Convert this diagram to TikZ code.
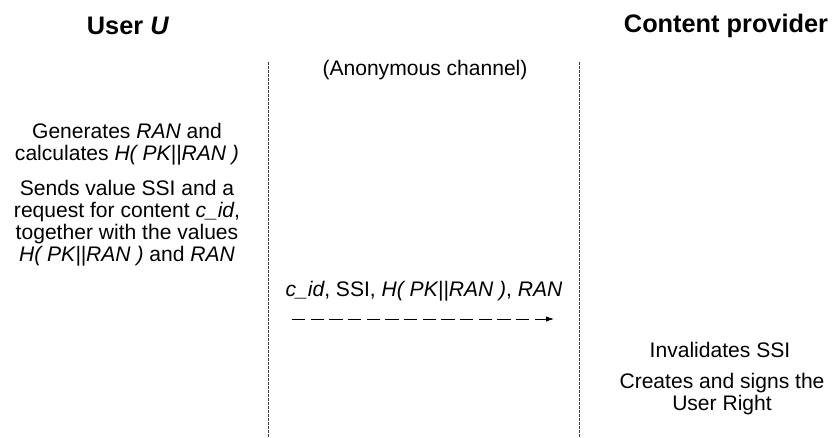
\documentclass[tikz,border=0pt]{standalone}
\usepackage{fontspec}
\setmainfont{Liberation Sans}
\usetikzlibrary{arrows.meta}
\begin{document}
\begin{tikzpicture}[x=0.75pt,y=-0.75pt,
    every node/.style={font=\fontsize{15.8}{16.5}\selectfont, align=center},
    title/.style={font=\fontsize{19}{22}\selectfont\bfseries},
    lifeline/.style={black!75, line width=0.6pt, dash pattern=on 2pt off 1pt},
    msg/.style={-{Latex[length=6pt,width=4pt]}, line width=0.6pt, dash pattern=on 10pt off 4pt}]
    \useasboundingbox (0,0) rectangle (834,438);

    % Headings
    \node[title] (user) at (128,26) {User \textit{U}};
    \node[title] (provider) at (726,26) {Content provider};

    % Borders of the channel
    \coordinate (ltop) at (268,62);
    \coordinate (lbot) at (268,438);
    \coordinate (rtop) at (579,62);
    \coordinate (rbot) at (579,438);
    \draw[lifeline] (ltop) -- (lbot);
    \draw[lifeline] (rtop) -- (rbot);
    \node (anon) at (425,70) {(Anonymous channel)};

    % User side
    \node (gen) at (127,144) {Generates \textit{RAN} and\\calculates \textit{H( PK||RAN )}};
    \node (send) at (127,223) {Sends value SSI and a\\request for content \textit{c\_id},\\together with the values\\\textit{H( PK||RAN )} and \textit{RAN}};

    % Message to the provider
    \coordinate (mfrom) at (292,319);
    \coordinate (mto) at (554,319);
    \draw[msg] (mfrom) -- (mto);
    \node (label) at (424,291) {\textit{c\_id}, SSI, \textit{H( PK||RAN )}, \textit{RAN}};

    % Provider side
    \node (inval) at (720,350) {Invalidates SSI};
    \node (create) at (722,394) {Creates and signs the\\User Right};
\end{tikzpicture}
\end{document}
